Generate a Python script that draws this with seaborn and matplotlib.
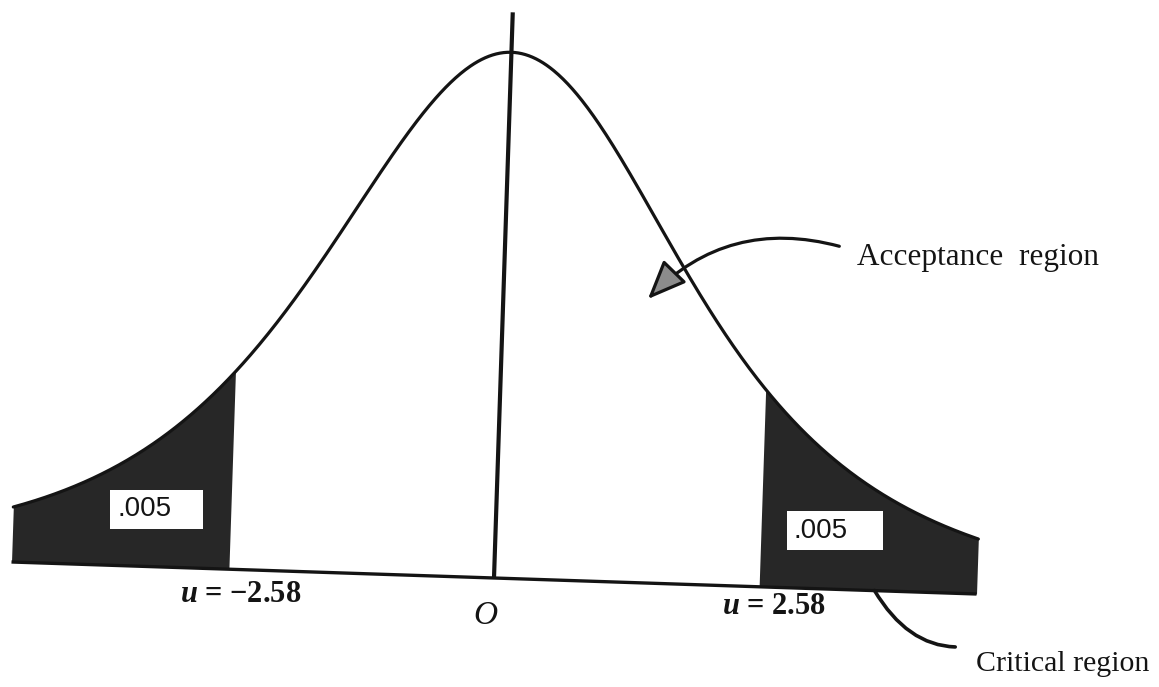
import numpy as np
import matplotlib
matplotlib.use("Agg")
import matplotlib.pyplot as plt
from matplotlib import transforms as mtransforms
from matplotlib.patches import Rectangle, FancyArrowPatch
import seaborn as sns

# ---- chart content -------------------------------------------------------
critical_u = [-2.58, 2.58]          # two-sided 1% critical values
tail_labels = [".005", ".005"]      # probability in each tail
u_labels = [r"$u$ = −2.58", r"$u$ = 2.58"]
curve_span = [-4.71, 4.71]          # range of u drawn
origin_label = "O"
region_labels = ["Acceptance  region", "Critical region"]

# ---- figure ---------------------------------------------------------------
W, H, DPI = 1159, 687, 100
sns.set_theme(style="white")
plt.rcParams["font.family"] = ["Liberation Serif", "DejaVu Serif"]
plt.rcParams["mathtext.fontset"] = "custom"
plt.rcParams["mathtext.rm"] = "Liberation Serif:bold"
plt.rcParams["mathtext.it"] = "Liberation Serif:italic:bold"
plt.rcParams["mathtext.bf"] = "Liberation Serif:bold"

fig = plt.figure(figsize=(W / DPI, H / DPI), dpi=DPI)
ax = fig.add_axes([0, 0, 1, 1])
ax.set_axis_off()

# data -> pixel scaling: u=0 at x=494 px, 102.5 px per unit; baseline 578 px from top
cx, px_per_u, base_y, peak_px = 494, 102.5, 578, 526
ax.set_xlim(-cx / px_per_u, (W - cx) / px_per_u)
ax.set_ylim((base_y - H) / peak_px, base_y / peak_px)

# the printed figure sits slightly rotated on the page
tilt = ax.transData + mtransforms.Affine2D().rotate_deg_around(cx, H - base_y, -1.9)
ident = mtransforms.IdentityTransform()

def disp(x_img, y_img):
    return (x_img, H - y_img)

# bell-shaped frequency curve
u = np.linspace(curve_span[0], curve_span[1], 800)
bell = (1 + (u / 1.88) ** 2 / 3) ** -2

ink = "#141414"
shade = "#272727"

# shaded critical regions
left = u <= critical_u[0]
right = u >= critical_u[1]
for mask in (left, right):
    pc = ax.fill_between(u[mask], 0, bell[mask], color=shade, linewidth=0)
    pc.set_transform(tilt)

sns.lineplot(x=u, y=bell, ax=ax, color=ink, linewidth=2.3)
ax.lines[-1].set_transform(tilt)

# base line and vertical axis through the mean
(bl,) = ax.plot(curve_span, [0, 0], color=ink, lw=2.4, solid_capstyle="butt")
bl.set_transform(tilt)
(vl,) = ax.plot([0, 0], [0, 1.076], color=ink, lw=3.0, solid_capstyle="butt")
vl.set_transform(tilt)

# white boxes with tail probabilities
boxes = [(110, 490, 93, 39), (787, 511, 96, 39)]
for (bx, by, bw, bh), lab in zip(boxes, tail_labels):
    ax.add_patch(Rectangle(disp(bx, by + bh), bw, bh, transform=ident,
                           facecolor="white", edgecolor="none", zorder=5))
    ax.text(bx + 7, H - (by + bh / 2), lab, transform=ident, ha="left", va="center",
            fontsize=20, family=["Liberation Sans", "DejaVu Sans"], color=ink, zorder=6)

# critical value labels
ax.text(*disp(180, 594), u_labels[0], transform=ident, ha="left", va="center",
        fontsize=22, fontweight="bold", color=ink)
ax.text(*disp(722, 606), u_labels[1], transform=ident, ha="left", va="center",
        fontsize=22, fontweight="bold", color=ink)
ax.text(*disp(485, 616), origin_label, transform=ident, ha="center", va="center",
        fontsize=24, style="italic", color=ink)

# region annotations
ax.text(*disp(857, 258), region_labels[0], transform=ident, ha="left", va="center",
        fontsize=22.5, color=ink)
ax.text(*disp(976, 664), region_labels[1], transform=ident, ha="left", va="center",
        fontsize=21.5, color=ink)

acc = FancyArrowPatch(disp(842, 247), disp(646, 301), transform=ident,
                      connectionstyle="arc3,rad=0.3",
                      arrowstyle="-|>,head_length=1.2,head_width=0.5",
                      mutation_scale=20, lw=2.3, edgecolor=ink, facecolor="#8c8c8c",
                      zorder=7)
ax.add_patch(acc)
crit = FancyArrowPatch(disp(873, 588), disp(958, 647), transform=ident,
                       connectionstyle="angle3,angleA=-60,angleB=0",
                       arrowstyle="-", lw=2.6, color=ink, zorder=7)
ax.add_patch(crit)

fig.savefig("out.png", dpi=DPI, facecolor="white")
